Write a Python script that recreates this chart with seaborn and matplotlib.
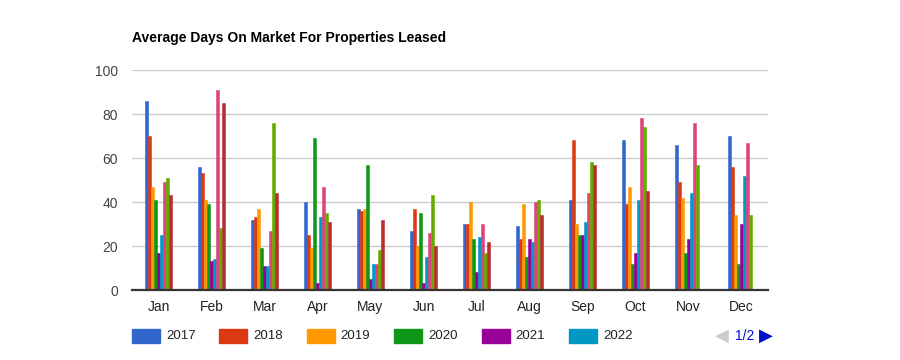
import pandas as pd
import numpy as np
import matplotlib.pyplot as plt
import seaborn as sns
from matplotlib.patches import Rectangle

# ── Data ──────────────────────────────────────────────────────────────
months = ['Jan', 'Feb', 'Mar', 'Apr', 'May', 'Jun',
          'Jul', 'Aug', 'Sep', 'Oct', 'Nov', 'Dec']
years = ['2017', '2018', '2019', '2020', '2021', '2022', '2023', '2024', '2025']

dom_2017 = [86, 56, 32, 40, 37, 27, 30, 29, 41, 68, 66, 70]
dom_2018 = [70, 53, 33, 25, 36, 37, 30, 23, 68, 39, 49, 56]
dom_2019 = [47, 41, 37, 19, 37, 20, 40, 39, 30, 47, 42, 34]
dom_2020 = [41, 39, 19, 69, 57, 35, 23, 15, 25, 12, 17, 12]
dom_2021 = [17, 13, 11, 3, 5, 3, 8, 23, 25, 17, 23, 30]
dom_2022 = [25, 14, 11, 33, 12, 15, 24, 22, 31, 41, 44, 52]
dom_2023 = [49, 91, 27, 47, 12, 26, 30, 40, 44, 78, 76, 67]
dom_2024 = [51, 28, 76, 35, 18, 43, 17, 41, 58, 74, 57, 34]
dom_2025 = [43, 85, 44, 31, 32, 20, 22, 34, 57, 45, np.nan, np.nan]

series = [dom_2017, dom_2018, dom_2019, dom_2020, dom_2021,
          dom_2022, dom_2023, dom_2024, dom_2025]
colors = ['#3366cc', '#dc3912', '#ff9900', '#109618', '#990099',
          '#0099c6', '#dd4477', '#66aa00', '#b82e2e']

df = pd.DataFrame({
    'month': np.tile(months, len(years)),
    'year': np.repeat(years, len(months)),
    'days': np.concatenate(series),
})

# ── Figure ────────────────────────────────────────────────────────────
sns.set_style('white')
plt.rcParams['font.family'] = ['Liberation Sans', 'DejaVu Sans']

fig = plt.figure(figsize=(9, 3.6), dpi=100)
ax = fig.add_axes([132 / 900, 1 - 290 / 360, 636 / 900, 220 / 360])

sns.barplot(data=df, x='month', y='days', hue='year', order=months,
            hue_order=years, palette=colors, width=0.52, gap=0,
            saturation=1, dodge=True, legend=False, ax=ax, errorbar=None,
            linewidth=0)
for p in ax.patches:
    p.set_edgecolor(p.get_facecolor())
    p.set_linewidth(0.4)

ax.set_ylim(0, 100)
ax.set_xlim(-0.5, 11.5)
ax.set_yticks(range(0, 101, 20))
ax.yaxis.grid(True, color='#cccccc', linewidth=1)
ax.set_axisbelow(True)
for s in ['top', 'right', 'left']:
    ax.spines[s].set_visible(False)
ax.spines['bottom'].set_color('#333333')
ax.spines['bottom'].set_linewidth(1.6)
ax.tick_params(axis='y', length=0, pad=10, labelsize=10, labelcolor='#444444')
ax.tick_params(axis='x', length=0, pad=7, labelsize=10, labelcolor='#222222')
ax.set_xlabel('')
ax.set_ylabel('')

fig.text(132 / 900, 1 - 38 / 360, 'Average Days On Market For Properties Leased',
         fontsize=10, fontweight='bold', va='center', ha='left', color='#000000')

# ── Legend (page 1 of 2) ──────────────────────────────────────────────
for i, (yr, c) in enumerate(zip(years[:6], colors[:6])):
    x0 = 132 + i * 87.4
    fig.patches.append(Rectangle((x0 / 900, 1 - 343 / 360), 28 / 900, 14 / 360,
                                 transform=fig.transFigure, color=c))
    fig.text((x0 + 34) / 900, 1 - 336 / 360, yr, fontsize=9.5,
             va='center', ha='left', color='#222222')

fig.text(722 / 900, 1 - 336 / 360, '◀', family=['DejaVu Sans'], fontsize=13,
         color='#cccccc', va='center', ha='center')
fig.text(745 / 900, 1 - 336 / 360, '1/2', fontsize=10, color='#0011cc',
         va='center', ha='center')
fig.text(766 / 900, 1 - 336 / 360, '▶', family=['DejaVu Sans'], fontsize=13,
         color='#0011cc', va='center', ha='center')

fig.savefig('out.png', dpi=100)
